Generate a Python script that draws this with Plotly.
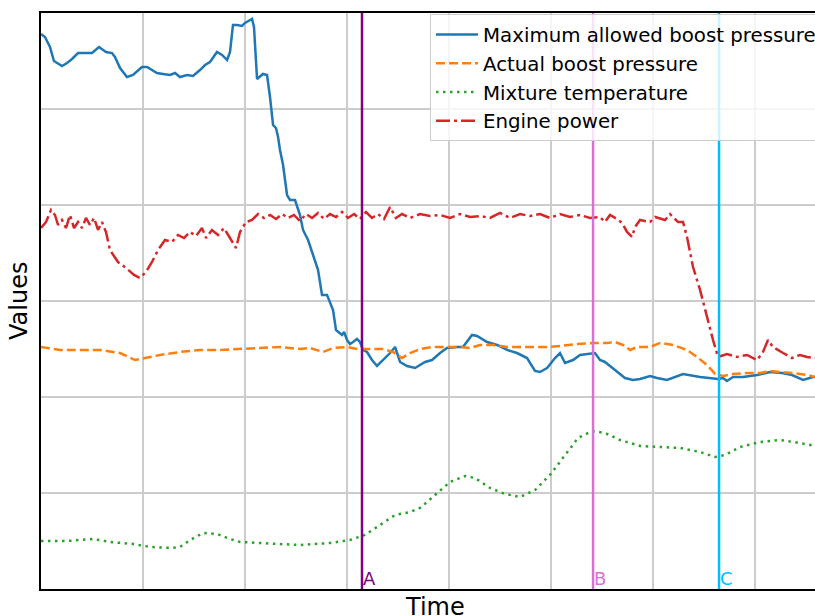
import plotly.graph_objects as go

# ---------------- data (time in s, values in arbitrary units) ----------------
t_max = [0, 0.39, 0.88, 1.27, 2.06, 2.55, 3.04, 3.63, 4.12, 4.51, 5.0, 5.69, 6.37, 6.96, 7.25,
         7.75, 8.43, 9.02, 9.9, 10.39, 11.37, 11.96, 12.65, 13.14, 13.63, 14.31, 14.9, 15.59,
         16.08, 16.57, 17.25, 17.75, 18.24, 18.53, 18.82, 19.22, 19.71, 20.0, 20.49, 20.69,
         20.88, 21.18, 21.76, 22.16, 22.45, 22.75, 23.04, 23.24, 23.43, 23.73, 24.12, 24.41,
         24.9, 25.39, 25.69, 26.18, 26.67, 27.16, 27.55, 28.04, 28.63, 28.92, 29.51, 29.71,
         30.0, 30.29, 30.59, 30.98, 31.27, 31.57, 31.96, 32.45, 32.94, 33.53, 34.22, 34.71,
         34.9, 35.2, 35.88, 36.67, 37.65, 38.33, 39.12, 39.8, 40.78, 41.37, 42.25, 42.75,
         43.73, 44.71, 45.69, 46.67, 47.65, 48.43, 48.92, 49.61, 50.39, 50.88, 51.37, 52.16,
         52.84, 53.82, 54.31, 54.8, 55.29, 56.27, 57.25, 58.04, 58.73, 59.71, 60.39, 61.37,
         62.94, 64.61, 66.37, 66.86, 67.25, 67.84, 68.82, 70.2, 71.47, 72.65, 73.63, 74.71,
         75.69, 77.3]
v_max = [578.1, 575, 564.6, 550, 544.8, 547.9, 552.1, 558.3, 558.3, 558.3, 558.3, 564.6, 559.4,
         558.3, 554.2, 542.7, 533.3, 535.4, 543.8, 543.8, 537.5, 536.5, 535.4, 537.5, 533.3,
         535.4, 534.4, 540.6, 545.8, 549, 559.4, 556.3, 551, 559.4, 587.5, 587.5, 586.5, 589.6,
         592.7, 593.8, 585.4, 531.3, 536.5, 535.4, 512.5, 483.3, 480.2, 470.8, 457.3, 441.7,
         410.4, 405.2, 405.2, 389.6, 374, 363.5, 347.9, 332.3, 306.3, 306.3, 290.6, 269.8,
         264.6, 267.7, 259.4, 255.2, 257.3, 260.4, 257.3, 249, 246.9, 238.5, 232.3, 238.5,
         245.8, 252.1, 245.8, 236.5, 232.3, 230.2, 236.5, 238.5, 245.8, 251, 252.1, 252.1,
         264.6, 263.5, 257.3, 254.2, 249, 245.8, 240.6, 227.1, 226, 230.2, 240.6, 245.8, 235.4,
         238.5, 243.8, 244.8, 245.8, 238.5, 236.5, 228.1, 219.8, 217.7, 218.8, 221.9, 219.8,
         217.7, 224, 220.8, 218.8, 219.8, 216.7, 220.8, 220.8, 222.9, 226, 225, 222.9, 217.7,
         220.8, 221]

t_act = [0, 0.88, 1.86, 3.82, 5.78, 7.75, 9.22, 10.2, 11.67, 13.63, 15.59, 17.55, 19.51, 21.47,
         23.43, 25.39, 26.37, 27.65, 28.63, 30.0, 30.98, 32.25, 33.53, 34.51, 35.39, 36.18,
         37.16, 38.43, 39.8, 41.08, 42.06, 43.04, 44.31, 45.69, 46.96, 48.24, 49.61, 50.88,
         52.55, 54.12, 55.49, 56.27, 57.06, 57.75, 58.43, 59.71, 60.69, 61.96, 63.33, 64.31,
         65.29, 66.08, 66.86, 67.84, 69.22, 70.49, 71.47, 72.45, 73.73, 75.1, 75.88, 77.3]
v_act = [252.1, 251, 249, 249, 249, 245.8, 238.5, 240.6, 243.8, 246.9, 249, 249, 250, 251,
         252.1, 250, 251, 246.9, 251, 252.1, 250, 250, 250, 246.9, 240.6, 245.8, 250, 252.1,
         252.1, 252.1, 251, 254.2, 254.2, 252.1, 252.1, 252.1, 252.1, 253.1, 255.2, 256.3,
         256.3, 257.3, 254.2, 249, 252.1, 252.1, 256.3, 254.2, 249, 241.7, 233.3, 224, 221.9,
         224, 225, 225, 227.1, 226, 225, 222.9, 220.8, 219]

t_mix = [0, 2.55, 5.1, 6.76, 9.02, 10.69, 12.84, 13.63, 14.61, 15.88, 17.25, 18.53, 19.51,
         21.47, 25.39, 28.33, 30.29, 31.76, 33.24, 34.71, 36.18, 37.16, 38.63, 40.1, 41.57,
         42.55, 44.02, 45.49, 46.96, 48.43, 49.9, 51.37, 52.65, 54.02, 55.29, 56.76, 58.73,
         60.69, 62.65, 64.61, 66.08, 67.06, 68.53, 70.49, 72.45, 74.41, 75.88, 77.3]
v_mix = [50, 50, 52.1, 49, 46.9, 43.8, 42.7, 43.8, 51, 58.3, 57.3, 52.1, 49, 47.9, 45.8, 47.9,
         51, 56.3, 66.7, 77.1, 80.2, 84.4, 97.9, 111.5, 117.7, 115.6, 105.2, 99, 95.8, 103.1,
         118.8, 139.6, 157.3, 164.6, 162.5, 155.2, 149, 147.9, 146.9, 142.7, 137.5, 139.6,
         147.9, 153.1, 155.2, 152.1, 149, 147]

t_pow = [0, 0.49, 0.98, 1.37, 1.67, 2.06, 2.45, 2.84, 3.24, 3.63, 4.02, 4.41, 4.8, 5.2, 5.59,
         5.98, 6.37, 6.76, 7.55, 8.33, 9.12, 9.71, 10.29, 10.88, 11.47, 12.16, 12.84, 13.43,
         14.02, 14.61, 15.2, 15.78, 16.18, 16.76, 17.35, 17.94, 18.53, 19.12, 19.51, 20.1,
         20.69, 21.27, 21.86, 22.45, 23.04, 23.63, 24.22, 24.8, 25.39, 25.98, 26.57, 27.16,
         27.75, 28.33, 28.92, 29.51, 30.1, 30.69, 31.27, 31.86, 32.45, 33.04, 33.63, 34.22,
         34.8, 35.39, 36.18, 37.16, 38.14, 39.12, 40.1, 41.08, 42.06, 43.04, 44.02, 45.0,
         45.98, 46.96, 47.94, 48.92, 49.9, 50.88, 51.86, 52.84, 53.82, 54.8, 55.29, 55.78,
         56.47, 56.96, 57.45, 57.94, 58.24, 58.73, 59.71, 60.2, 61.18, 61.67, 62.45, 62.94,
         63.33, 63.92, 64.61, 65.29, 65.88, 66.37, 67.25, 68.24, 69.22, 70.2, 70.78, 71.27,
         71.76, 72.75, 73.63, 74.41, 75.1, 75.88, 77.3]
v_pow = [376, 382.3, 394.8, 389.6, 379.2, 384.4, 376, 389.6, 376, 382.3, 376, 386.5, 379.2,
         386.5, 374, 382.3, 371.9, 353.1, 340.6, 334.4, 327.1, 324, 330.2, 340.6, 353.1, 363.5,
         361.5, 368.8, 365.6, 371.9, 367.7, 376, 365.6, 374, 368.8, 376, 365.6, 355.2, 371.9,
         382.3, 384.4, 390.6, 386.5, 389.6, 385.4, 390.6, 386.5, 389.6, 383.3, 390.6, 386.5,
         391.7, 385.4, 390.6, 387.5, 392.7, 386.5, 390.6, 385.4, 392.7, 386.5, 390.6, 385.4,
         397.9, 386.5, 390.6, 386.5, 390.6, 388.5, 389.6, 386.5, 390.6, 387.5, 388.5, 386.5,
         391.7, 386.5, 390.6, 388.5, 390.6, 386.5, 390.6, 387.5, 389.6, 386.5, 387.5, 382.3,
         389.6, 385.4, 381.3, 371.9, 366.7, 377.1, 384.4, 382.3, 387.5, 384.4, 390.6, 382.3,
         382.3, 366.7, 335.4, 311.5, 283.3, 259.4, 241.7, 244.8, 241.7, 243.8, 238.5, 246.9,
         259.4, 252.1, 245.8, 240.6, 243.8, 241.7, 240.6, 240]

marker_labels = ["A", "B", "C"]
marker_times = [31.47, 54.12, 66.47]

series_names = ["Maximum allowed boost pressure", "Actual boost pressure",
                "Mixture temperature", "Engine power"]

# ---------------- styles ----------------
line_styles = [
    dict(color="#1f77b4", width=2.5, dash="solid"),
    dict(color="#ff7f0e", width=2.5, dash="9px,4px"),
    dict(color="#2ca02c", width=2.5, dash="2.5px,4.5px"),
    dict(color="#d62728", width=2.5, dash="14px,4px,3px,4px"),
]
marker_colors = ["#800080", "#da70d6", "#00bfff"]
FONT = "DejaVu Sans"
X_RANGE = [0, 77.25]
Y_RANGE = [0, 600]

fig = go.Figure()
for name, tx, vy, st in zip(series_names, [t_max, t_act, t_mix, t_pow],
                            [v_max, v_act, v_mix, v_pow], line_styles):
    fig.add_trace(go.Scatter(x=tx, y=vy, mode="lines", name=name, line=st))

for lab, tm, col in zip(marker_labels, marker_times, marker_colors):
    fig.add_shape(type="line", xref="x", yref="paper", x0=tm, x1=tm, y0=0, y1=1,
                  line=dict(color=col, width=2.5), layer="above")
    fig.add_annotation(x=tm, y=0, xref="x", yref="paper", text=lab, showarrow=False,
                       xanchor="left", yanchor="bottom", xshift=-1, yshift=-2,
                       font=dict(family=FONT, size=18, color=col))

fig.add_annotation(x=0.5, y=0, xref="paper", yref="paper", text="Time", showarrow=False,
                   xanchor="center", yanchor="top", yshift=-2,
                   font=dict(family=FONT, size=24, color="black"))
fig.add_annotation(x=0, y=0.5, xref="paper", yref="paper", text="Values", showarrow=False,
                   xanchor="right", yanchor="middle", xshift=-6, textangle=-90,
                   font=dict(family=FONT, size=24, color="black"))

axis_common = dict(showticklabels=False, ticks="", showgrid=True, gridcolor="#cccccc",
                   gridwidth=1.5, zeroline=False, showline=True, linecolor="black",
                   linewidth=2, mirror=True)
fig.update_xaxes(range=X_RANGE, dtick=10, tick0=0, **axis_common)
fig.update_yaxes(range=Y_RANGE, dtick=100, tick0=0, **axis_common)

fig.update_layout(
    width=844, height=616,
    margin=dict(l=41, r=15, t=13, b=27),
    plot_bgcolor="white", paper_bgcolor="white",
    font=dict(family=FONT, color="black"),
    showlegend=True,
    legend=dict(x=0.9911, y=0.998, xanchor="right", yanchor="top",
                bgcolor="rgba(255,255,255,0.8)", bordercolor="#cccccc", borderwidth=1,
                font=dict(family=FONT, size=19.8, color="black"), itemwidth=42),
)

fig.write_html("out.html",
               post_script="document.body.style.margin='0';document.body.style.overflow='hidden';")
